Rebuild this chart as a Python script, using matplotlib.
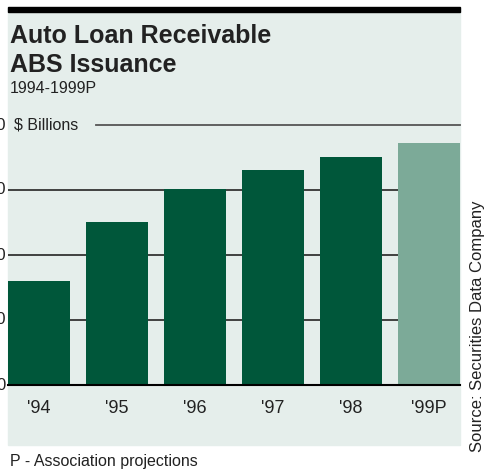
import matplotlib.pyplot as plt
from matplotlib.patches import Rectangle

years = ["'94", "'95", "'96", "'97", "'98", "'99P"]
values = [16.0, 25.1, 30.2, 33.1, 35.1, 37.2]
colors = ['#00573a', '#00573a', '#00573a', '#00573a', '#00573a', '#7caa98']
ticks = [0, 10, 20, 30, 40]

W, H = 485, 469
fig = plt.figure(figsize=(W / 100, H / 100), dpi=100)
fam = ['Liberation Sans', 'DejaVu Sans']

def fx(px):
    return px / W

def fy(py):
    return 1 - py / H

# panel background and top rule
fig.patches.append(Rectangle((fx(8), fy(445)), fx(460) - fx(8), fy(8) - fy(445),
                             transform=fig.transFigure, color='#e5eeeb', zorder=-2))
fig.patches.append(Rectangle((fx(8), fy(12)), fx(460) - fx(8), fy(7) - fy(12),
                             transform=fig.transFigure, color='black', zorder=-1))

ax = fig.add_axes([fx(8), fy(385), fx(460) - fx(8), fy(125) - fy(385)])
ax.set_zorder(2)
ax.set_facecolor('none')
x = range(len(years))
w = 0.795
ax.bar(x, values, width=w, color=colors, zorder=3)
ax.set_xlim(-w / 2, len(years) - 1 + w / 2)
ax.set_ylim(0, 40)
for t in ticks[1:-1]:
    ax.axhline(t, color='#333333', lw=1.3, zorder=1)
ax.axhline(40, xmin=(96 - 8) / 452, color='#555555', lw=1.3, zorder=1, clip_on=False)
ax.axhline(0, color='black', lw=1.5, zorder=4, clip_on=False)
for s in ax.spines.values():
    s.set_visible(False)
ax.set_yticks([])
ax.set_xticks(list(x))
ax.set_xticklabels(years, family=fam, fontsize=13, color='#222222')
ax.tick_params(axis='x', length=0, pad=11)

# y tick labels sit mostly off the left edge, as in the original
for t in ticks:
    py = 385 - t * 6.5
    fig.text(fx(6), fy(py), str(t), ha='right', va='center', family=fam,
             fontsize=12, color='#222222')

fig.text(fx(14), fy(125), '$ Billions', ha='left', va='center', family=fam,
         fontsize=11.5, color='#222222')
fig.text(fx(10), fy(43), 'Auto Loan Receivable', ha='left', va='baseline', family=fam,
         fontsize=18, fontweight='bold', color='#222222')
fig.text(fx(10), fy(72), 'ABS Issuance', ha='left', va='baseline', family=fam,
         fontsize=18, fontweight='bold', color='#222222')
fig.text(fx(10), fy(93), '1994-1999P', ha='left', va='baseline', family=fam,
         fontsize=11.5, color='#222222')
fig.text(fx(10), fy(466), 'P - Association projections', ha='left', va='baseline', family=fam,
         fontsize=11.5, color='#222222')
fig.text(fx(478), fy(326), 'Source: Securities Data Company', ha='center', va='center',
         rotation=90, family=fam, fontsize=12, color='#222222')

fig.savefig('out.png', dpi=100)
